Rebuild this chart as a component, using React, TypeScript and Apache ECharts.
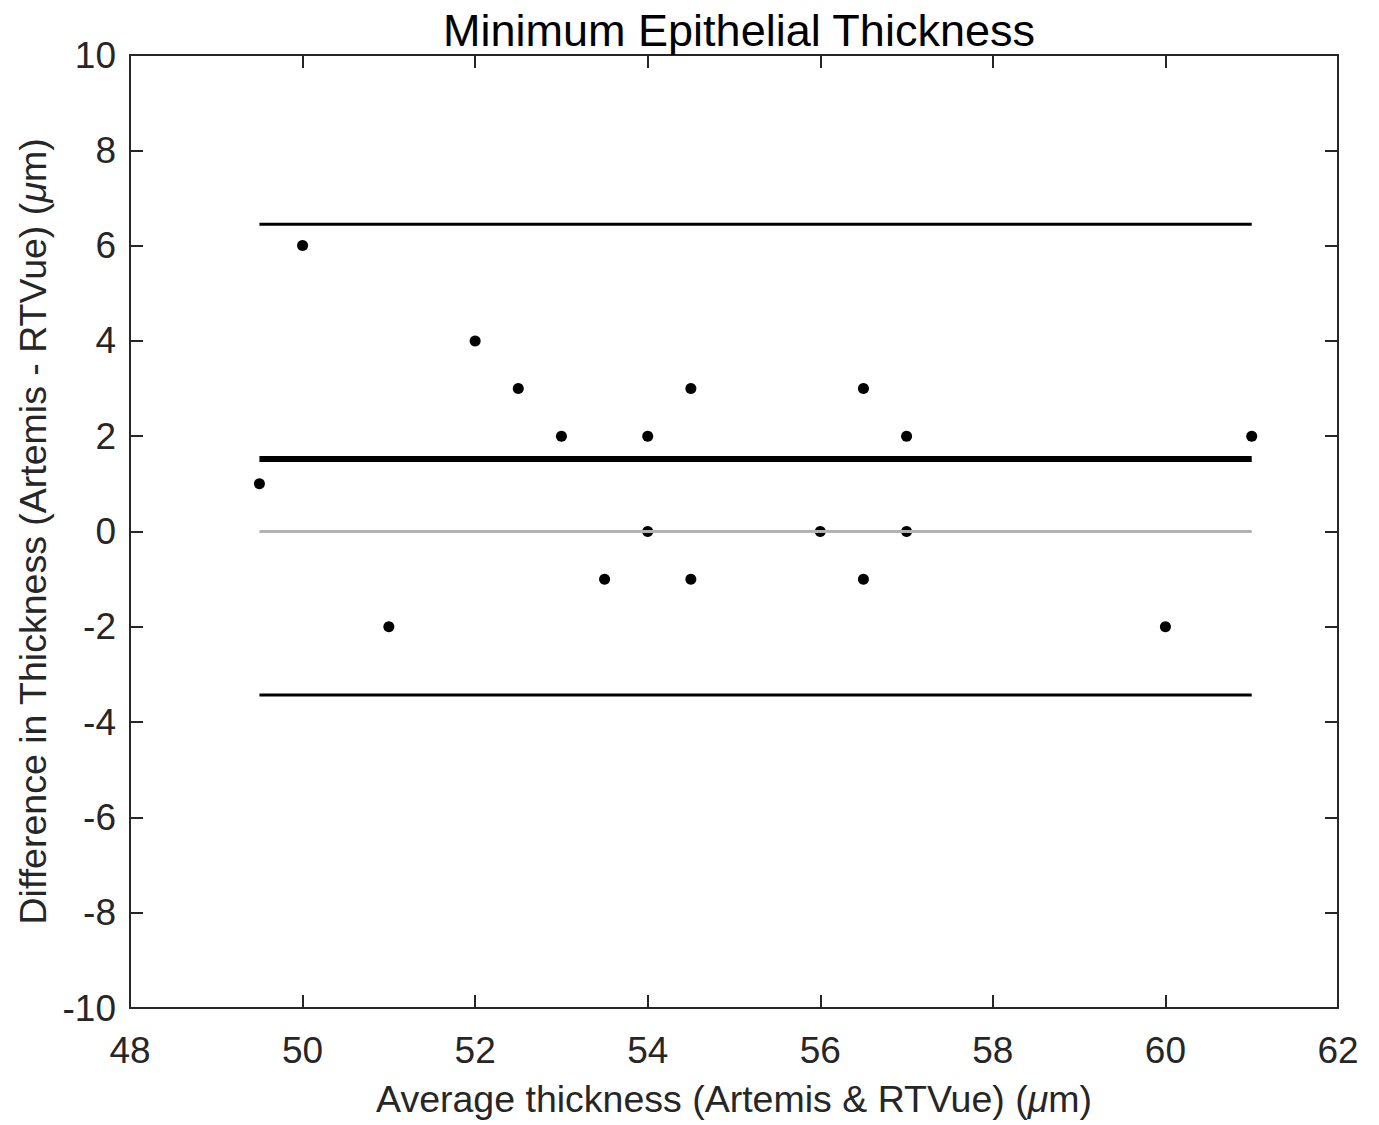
import React, { useEffect, useRef } from "react";
import * as echarts from "echarts";

const avgThickness = [49.5, 50, 51, 52, 52.5, 53, 53.5, 54, 54, 54.5, 54.5, 56, 56.5, 56.5, 57, 57, 60, 61];
const diffThickness = [1, 6, -2, 4, 3, 2, -1, 2, 0, 3, -1, 0, 3, -1, 2, 0, -2, 2];
const lineStartEnd = [49.5, 61];
const meanDiff = 1.52;
const upperLimit = 6.45;
const lowerLimit = -3.43;
const zeroLevel = 0;
const xTicks = { min: 48, max: 62, interval: 2 };
const yTicks = { min: -10, max: 10, interval: 2 };

const AX = "#262626";
const FONT = "'Liberation Sans', Arial, Helvetica, sans-serif";

export default function App() {
  const ref = useRef<HTMLDivElement>(null);
  useEffect(() => {
    if (!ref.current) return;
    const chart = echarts.init(ref.current, null, { renderer: "svg" });
    const hline = (y: number) => lineStartEnd.map((x) => [x, y]);
    const axisCommon = {
      axisLine: { show: true, onZero: false, lineStyle: { color: AX, width: 2 } },
      axisTick: { show: true, inside: true, length: 13, lineStyle: { color: AX, width: 2 } },
      splitLine: { show: false },
    };
    const nameStyle = {
      fontFamily: FONT,
      fontSize: 37.5,
      color: AX,
      rich: { i: { fontFamily: FONT, fontSize: 37.5, fontStyle: "italic", color: AX } },
    };
    chart.setOption({
      animation: false,
      backgroundColor: "#ffffff",
      title: {
        text: "Minimum Epithelial Thickness",
        left: 734,
        top: 3,
        textAlign: "center",
        textStyle: { fontFamily: FONT, fontSize: 45, fontWeight: "normal", color: "#000" },
      },
      grid: { left: 130, top: 55, width: 1208, height: 953 },
      xAxis: [
        {
          type: "value",
          position: "bottom",
          min: xTicks.min,
          max: xTicks.max,
          interval: xTicks.interval,
          ...axisCommon,
          axisLabel: { fontFamily: FONT, fontSize: 37, color: AX, margin: 24 },
          name: "Average thickness (Artemis & RTVue) ({i|μ}m)",
          nameLocation: "middle",
          nameGap: 72,
          nameTextStyle: nameStyle,
        },
        {
          type: "value",
          position: "top",
          min: xTicks.min,
          max: xTicks.max,
          interval: xTicks.interval,
          ...axisCommon,
          axisLabel: { show: false },
        },
      ],
      yAxis: [
        {
          type: "value",
          position: "left",
          min: yTicks.min,
          max: yTicks.max,
          interval: yTicks.interval,
          ...axisCommon,
          axisLabel: { fontFamily: FONT, fontSize: 37, color: AX, margin: 14 },
          name: "Difference in Thickness (Artemis - RTVue) ({i|μ}m)",
          nameLocation: "middle",
          nameGap: 78,
          nameTextStyle: nameStyle,
        },
        {
          type: "value",
          position: "right",
          min: yTicks.min,
          max: yTicks.max,
          interval: yTicks.interval,
          ...axisCommon,
          axisLabel: { show: false },
        },
      ],
      series: [
        {
          type: "line",
          data: hline(zeroLevel),
          symbol: "none",
          lineStyle: { color: "#b3b3b3", width: 3 },
          silent: true,
        },
        {
          type: "line",
          data: hline(upperLimit),
          symbol: "none",
          lineStyle: { color: "#000", width: 3 },
          silent: true,
        },
        {
          type: "line",
          data: hline(lowerLimit),
          symbol: "none",
          lineStyle: { color: "#000", width: 3 },
          silent: true,
        },
        {
          type: "line",
          data: hline(meanDiff),
          symbol: "none",
          lineStyle: { color: "#000", width: 6, cap: "butt" },
          silent: true,
        },
        {
          type: "scatter",
          data: avgThickness.map((x, i) => [x, diffThickness[i]]),
          symbol: "circle",
          symbolSize: 11,
          itemStyle: { color: "#000", opacity: 1 },
        },
      ],
    });
    return () => chart.dispose();
  }, []);
  return (
    <div
      ref={ref}
      style={{ position: "fixed", left: 0, top: 0, width: 1379, height: 1125, background: "#fff" }}
    />
  );
}
